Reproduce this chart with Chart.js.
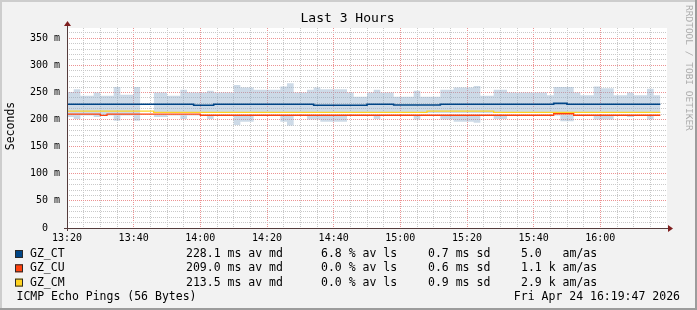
<!DOCTYPE html>
<html><head><meta charset="utf-8">
<script src="https://cdn.jsdelivr.net/npm/chart.js@4.4.1/dist/chart.umd.min.js"></script>
<style>html,body{margin:0;padding:0;background:#f2f2f2;}canvas{display:block}</style>
</head><body>
<canvas id="c" width="697" height="310"></canvas>
<script>
// ---------- data ----------
const chartTitle = 'Last 3 Hours';
const yAxisTitle = 'Seconds';
const watermark = 'RRDTOOL / TOBI OETIKER';
const slotMinutes = 2;          // each smoke/median step covers 2 minutes
const spanMinutes = 180;        // 13:20 .. 16:20
const xTickLabels = ['13:20','13:40','14:00','14:20','14:40','15:00','15:20','15:40','16:00'];
const yTickLabels = ['0  ','50 m','100 m','150 m','200 m','250 m','300 m','350 m'];
const seriesNames = ['GZ_CT','GZ_CU','GZ_CM'];
const seriesColors = ['#004586','#ff420e','#ffd320'];

// median RTT (ms) per 2-minute slot
const ctMedian = [
 228.2,228.2,228.2,228.2,228.2,228.2,228.2,228.2,228.2,228.2,
 228.2,228.2,228.2,228.2,228.2,228.2,228.2,228.2,228.2,226.4,
 226.4,226.4,228.2,228.2,228.2,228.2,228.2,228.2,228.2,228.2,
 228.2,228.2,228.2,228.2,228.2,228.2,228.2,226.4,226.4,226.4,
 226.4,226.4,226.4,226.4,226.4,228.2,228.2,228.2,228.2,227.0,
 227.0,227.0,227.0,227.0,227.0,227.0,228.2,228.2,228.2,228.2,
 228.2,228.2,228.2,228.2,228.2,228.2,228.2,228.2,228.2,228.2,
 228.2,228.2,228.2,230.0,230.0,228.2,228.2,228.2,228.2,228.2,
 228.2,228.2,228.2,228.2,228.2,228.2,228.2,228.2,228.2];
const cuMedian = [
 210.0,210.0,210.0,210.0,210.0,207.8,210.0,210.0,210.0,210.0,
 210.0,210.0,210.0,210.0,210.0,210.0,210.0,210.0,210.0,210.0,
 208.0,208.0,208.0,208.0,208.0,208.0,208.0,208.0,208.0,208.0,
 208.0,208.0,208.0,208.0,208.0,208.0,208.0,208.0,208.0,208.0,
 208.0,208.0,208.0,208.0,208.0,208.0,208.0,208.0,208.0,208.0,
 208.0,208.0,208.0,208.0,208.0,208.0,208.0,208.0,208.0,208.0,
 208.0,208.0,208.0,208.0,208.0,208.0,208.0,208.0,208.0,208.0,
 208.0,208.0,208.0,210.8,210.8,210.8,208.0,208.0,208.0,208.0,
 208.0,208.0,208.0,208.0,208.0,208.0,208.0,208.0,208.0];
const cmMedian = [
 215.5,215.5,215.5,215.5,215.5,215.5,215.5,215.5,215.5,215.5,
 215.5,215.5,215.5,213.2,213.2,213.2,213.2,213.2,213.2,213.2,
 213.2,213.2,213.2,213.2,213.2,213.2,213.2,213.2,213.2,213.2,
 213.2,213.2,213.2,213.2,213.2,213.2,213.2,213.2,213.2,213.2,
 213.2,213.2,213.2,213.2,213.2,213.2,213.2,213.2,213.2,213.2,
 213.2,213.2,213.2,213.2,215.5,215.5,215.5,215.5,215.5,215.5,
 215.5,215.5,215.5,215.5,213.2,213.2,213.2,213.2,213.2,213.2,
 213.2,213.2,213.2,213.2,213.2,213.2,213.2,213.2,213.2,213.2,
 213.2,213.2,213.2,213.2,213.2,213.2,213.2,213.2,213.2];

// smoke (spread of pings) per slot: upper part [smokeUpperLow, smokeHigh], lower part [smokeLow, smokeLowerHigh]
const smokeHigh = [
 251,256,244,244,250,244,244,260,246,246,
 260,null,null,250,250,244,244,255,250,250,
 250,253,250,250,250,264,259,259,255,255,
 255,255,261,267,250,250,255,259,256,256,
 256,256,250,242,242,250,255,250,250,242,
 242,242,253,242,242,242,255,255,259,259,
 259,262,244,244,255,255,250,250,250,250,
 250,250,245,260,260,260,250,245,245,261,
 258,258,245,245,250,245,245,257,245];
const smokeUpperLow = [
 209,209,209,209,209,209,209,209,209,209,
 209,null,null,212,212,212,212,212,212,212,
 212,212,212,212,212,212,212,212,212,212,
 212,212,212,212,212,212,212,212,212,212,
 212,212,212,212,212,212,212,212,212,212,
 212,212,212,212,212,212,212,212,212,212,
 212,212,212,212,212,212,212,212,212,212,
 212,212,212,212,212,212,212,212,212,212,
 212,212,212,212,212,212,212,212,212];
const smokeLowerHigh = [
 209,209,209,209,209,209,209,209,209,209,
 209,null,null,209,209,209,209,209,209,209,
 209,209,209,209,209,209,209,209,209,209,
 209,209,209,209,209,209,209,209,209,209,
 209,209,209,209,209,209,209,209,209,209,
 209,209,209,209,209,209,209,209,209,209,
 209,209,209,209,209,209,209,209,209,209,
 209,209,209,209,209,209,209,209,209,209,
 209,209,209,209,209,209,209,209,209];
const smokeLow = [
 205,201,207.5,207.5,205,207.5,207.5,198,207.5,207.5,
 198,null,null,205,205,207.5,207.5,201,207.5,207.5,
 207.5,201,207.5,207.5,207.5,190,196,196,207.5,207.5,
 207.5,207.5,196,189,207.5,207.5,200,200,196,196,
 196,196,207.5,207.5,207.5,207.5,201,207.5,207.5,207.5,
 207.5,207.5,200,207.5,207.5,207.5,200,200,196,196,
 196,194,207.5,207.5,201,201,207.5,207.5,207.5,207.5,
 207.5,207.5,207.5,207.5,197,197,207.5,207.5,207.5,200,
 200,200,207.5,207.5,205,207.5,207.5,200,207.5];

const legendStats = [
 ['228.1 ms av md','6.8 % av ls','0.7 ms sd','5.0   am/as'],
 ['209.0 ms av md','0.0 % av ls','0.6 ms sd','1.1 k am/as'],
 ['213.5 ms av md','0.0 % av ls','0.9 ms sd','2.9 k am/as']];
const footerLeft = 'ICMP Echo Pings (56 Bytes)';
const footerRight = 'Fri Apr 24 16:19:47 2026';

// ---------- helpers ----------
function stepPoints(values) {
  const pts = [];
  values.forEach((v, i) => {
    const x0 = i * slotMinutes, x1 = x0 + slotMinutes;
    if (v === null) { pts.push({x: x0 + slotMinutes / 2, y: null}); return; }
    pts.push({x: x0, y: v}, {x: x1, y: v});
  });
  return pts;
}
const MONO = '"DejaVu Sans Mono", monospace';
const smokeColor = 'rgba(140,170,200,0.43)';
const minorGrid = '#c9c9c9';
const majorGrid = '#ec9292';

function lineDs(name, values, color, w) {
  return {label: name, data: stepPoints(values), borderColor: color, borderWidth: w,
    pointRadius: 0, fill: false, tension: 0, borderJoinStyle: 'miter', borderCapStyle: 'butt'};
}
function bandDs(name, values, fill) {
  return {label: name, data: stepPoints(values), borderColor: 'rgba(0,0,0,0)', borderWidth: 1,
    backgroundColor: smokeColor, pointRadius: 0, fill: fill, tension: 0, spanGaps: false};
}

const decor = {
  id: 'decor',
  beforeDraw(chart) {
    const {ctx, chartArea: a, width: W, height: H} = chart;
    ctx.save();
    ctx.fillStyle = '#f2f2f2'; ctx.fillRect(0, 0, W, H);
    ctx.fillStyle = '#cdcdcd'; ctx.fillRect(0, 0, W, 2); ctx.fillRect(0, 0, 2, H);
    ctx.fillStyle = '#9c9c9c'; ctx.fillRect(0, H - 2, W, 2); ctx.fillRect(W - 2, 0, 2, H);
    ctx.fillStyle = '#ffffff'; ctx.fillRect(a.left, a.top, a.right - a.left, a.bottom - a.top);
    ctx.restore();
  },
  afterDraw(chart) {
    const {ctx, chartArea: a} = chart;
    ctx.save();
    // axes
    ctx.strokeStyle = '#553c3c'; ctx.lineWidth = 1;
    ctx.beginPath(); ctx.moveTo(a.left - 3, a.bottom + 0.5); ctx.lineTo(a.right + 3, a.bottom + 0.5); ctx.stroke();
    ctx.beginPath(); ctx.moveTo(a.left + 0.5, a.bottom + 3); ctx.lineTo(a.left + 0.5, a.top - 3); ctx.stroke();
    ctx.fillStyle = '#7f1f1f';
    ctx.beginPath(); ctx.moveTo(a.right + 6, a.bottom + 0.5); ctx.lineTo(a.right + 1, a.bottom - 3); ctx.lineTo(a.right + 1, a.bottom + 4); ctx.closePath(); ctx.fill();
    ctx.beginPath(); ctx.moveTo(a.left + 0.5, a.top - 7); ctx.lineTo(a.left - 3, a.top - 2); ctx.lineTo(a.left + 4, a.top - 2); ctx.closePath(); ctx.fill();
    // title
    ctx.fillStyle = '#000';
    ctx.textBaseline = 'middle';
    ctx.textAlign = 'center';
    ctx.font = '13px ' + MONO;
    ctx.fillText(chartTitle, 347.5, 19);
    // y axis title
    ctx.save();
    ctx.translate(11, 126);
    ctx.rotate(-Math.PI / 2);
    ctx.font = '11.5px ' + MONO;
    ctx.fillText(yAxisTitle, 0, 0);
    ctx.restore();
    // watermark
    ctx.save();
    ctx.translate(688.5, 5);
    ctx.rotate(Math.PI / 2);
    ctx.textAlign = 'left';
    ctx.fillStyle = '#ababab';
    ctx.font = '9.5px ' + MONO;
    ctx.fillText(watermark, 0, 0);
    ctx.restore();
    // legend
    ctx.textAlign = 'left';
    ctx.font = '11.5px ' + MONO;
    const rowY = [254, 268.3, 282.6];
    const colX = [186, 321, 428, 521];
    seriesNames.forEach((n, i) => {
      const y = rowY[i];
      ctx.fillStyle = seriesColors[i];
      ctx.fillRect(15, y - 4, 8, 8);
      ctx.strokeStyle = '#2a2a2a'; ctx.lineWidth = 1;
      ctx.strokeRect(15.5, y - 3.5, 7, 7);
      ctx.fillStyle = '#000';
      ctx.fillText(n, 30, y);
      legendStats[i].forEach((s, j) => ctx.fillText(s, colX[j], y));
    });
    ctx.fillText(footerLeft, 16.5, 297);
    ctx.textAlign = 'right';
    ctx.fillText(footerRight, 680, 297);
    ctx.restore();
  }
};

new Chart(document.getElementById('c'), {
  type: 'line',
  data: {
    datasets: [
      lineDs(seriesNames[0], ctMedian, seriesColors[0], 1.6),
      lineDs(seriesNames[2], cmMedian, seriesColors[2], 1.3),
      lineDs(seriesNames[1], cuMedian, seriesColors[1], 1.3),
      bandDs('smoke upper', smokeHigh, '+1'),
      bandDs('smoke upper low', smokeUpperLow, false),
      bandDs('smoke lower', smokeLowerHigh, '+1'),
      bandDs('smoke lower low', smokeLow, false)
    ]
  },
  options: {
    responsive: false,
    devicePixelRatio: 1,
    animation: false,
    events: [],
    layout: {padding: {top: 28, right: 30, left: 0, bottom: 0}},
    plugins: {legend: {display: false}, title: {display: false}, tooltip: {enabled: false}},
    scales: {
      x: {
        type: 'linear', min: 0, max: spanMinutes,
        afterFit: s => { s.height = 82; },
        afterBuildTicks: s => { const t = []; for (let v = 0; v < spanMinutes; v += 5) t.push({value: v}); s.ticks = t; },
        grid: {color: c => (c.tick && c.tick.value % 20 === 0) ? majorGrid : minorGrid, lineWidth: 1, drawTicks: false},
        border: {display: false, dash: [1, 1]},
        ticks: {
          autoSkip: false, maxRotation: 0, padding: 4, color: '#000',
          font: {family: MONO, size: 10},
          callback: v => (v % 20 === 0) ? xTickLabels[v / 20] : ''
        }
      },
      y: {
        type: 'linear', min: 0, max: 369,
        afterFit: s => { s.width = 67; },
        afterBuildTicks: s => { const t = []; for (let v = 0; v <= 360; v += 10) t.push({value: v}); s.ticks = t; },
        grid: {color: c => (c.tick && c.tick.value % 50 === 0) ? majorGrid : minorGrid, lineWidth: 1, drawTicks: false},
        border: {display: false, dash: [1, 1]},
        ticks: {
          autoSkip: false, padding: 7, color: '#000',
          font: {family: MONO, size: 10},
          callback: v => (v % 50 === 0) ? yTickLabels[v / 50] : ''
        }
      }
    }
  },
  plugins: [decor]
});
</script>
</body></html>
